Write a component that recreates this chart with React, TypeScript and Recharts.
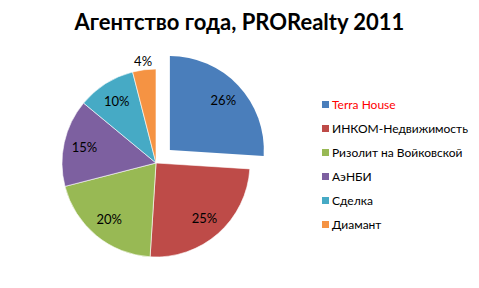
import { PieChart, Pie, Cell, Legend } from 'recharts';

const agencies = ['Terra House', 'ИНКОМ-Недвижимость', 'Ризолит на Войковской', 'АэНБИ', 'Сделка', 'Диамант'];
const shares = [26, 25, 20, 15, 10, 4];
const colors = ['#4A7EBB', '#BE4B48', '#98B954', '#7D60A0', '#46AAC5', '#F59343'];
const legendTextColors = ['#FF0000', '#000', '#000', '#000', '#000', '#000'];

const data = agencies.map((name, i) => ({ name, value: shares[i] }));

const RAD = Math.PI / 180;
const CX = 156;
const CY = 163;
const R = 94;
const EXPLODE = 19;

// mid angle of the first slice, clockwise from 12 o'clock
const total = shares.reduce((a, b) => a + b, 0);
const firstMid = (shares[0] / total) * 180;
const exCx = CX + EXPLODE * Math.sin(firstMid * RAD);
const exCy = CY - EXPLODE * Math.cos(firstMid * RAD);

const font = 'Lato, "Open Sans", sans-serif';

function makeLabel(show: (i: number) => boolean) {
  return (props: any) => {
    const { cx, cy, midAngle, outerRadius, index, value } = props;
    if (!show(index)) return null;
    const r = value < 5 ? outerRadius + 9 : outerRadius * 0.78;
    const x = cx + r * Math.cos(-midAngle * RAD);
    const y = cy + r * Math.sin(-midAngle * RAD);
    return (
      <text x={x} y={y} textAnchor="middle" dominantBaseline="central" fontSize={13} fontFamily={font} fill="#000">
        {`${value}%`}
      </text>
    );
  };
}

function LegendBox() {
  return (
    <div style={{ fontFamily: font, fontSize: 12 }}>
      {agencies.map((name, i) => (
        <div key={name} style={{ display: 'flex', alignItems: 'center', height: 24 }}>
          <span style={{ width: 7, height: 7, background: colors[i], marginRight: 3 }} />
          <span style={{ color: legendTextColors[i] }}>{name}</span>
        </div>
      ))}
    </div>
  );
}

export default function App() {
  return (
    <div style={{ position: 'relative', width: 479, height: 288, background: '#fff' }}>
      <style>{'body{margin:0}'}</style>
      <div
        style={{
          position: 'absolute',
          top: 8,
          left: 0,
          width: 479,
          textAlign: 'center',
          fontFamily: font,
          fontWeight: 700,
          fontSize: 22,
          color: '#000',
        }}
      >
        Агентство года, PRORealty 2011
      </div>
      <PieChart width={479} height={288} margin={{ top: 0, right: 0, bottom: 0, left: 0 }}>
        <Pie
          data={data}
          dataKey="value"
          cx={CX}
          cy={CY}
          outerRadius={R}
          startAngle={90}
          endAngle={-270}
          stroke="#fff"
          strokeWidth={0.6}
          label={makeLabel((i) => i !== 0)}
          labelLine={false}
          isAnimationActive={false}
        >
          {data.map((d, i) => (
            <Cell key={d.name} fill={i === 0 ? 'transparent' : colors[i]} stroke={i === 0 ? 'none' : '#fff'} />
          ))}
        </Pie>
        <Pie
          data={data}
          dataKey="value"
          cx={exCx}
          cy={exCy}
          outerRadius={R}
          startAngle={90}
          endAngle={-270}
          label={makeLabel((i) => i === 0)}
          labelLine={false}
          isAnimationActive={false}
        >
          {data.map((d, i) => (
            <Cell key={d.name} fill={i === 0 ? colors[0] : 'transparent'} stroke="none" />
          ))}
        </Pie>
        <Legend
          content={<LegendBox />}
          wrapperStyle={{ position: 'absolute', left: 322, top: 92, width: 157 }}
        />
      </PieChart>
    </div>
  );
}
